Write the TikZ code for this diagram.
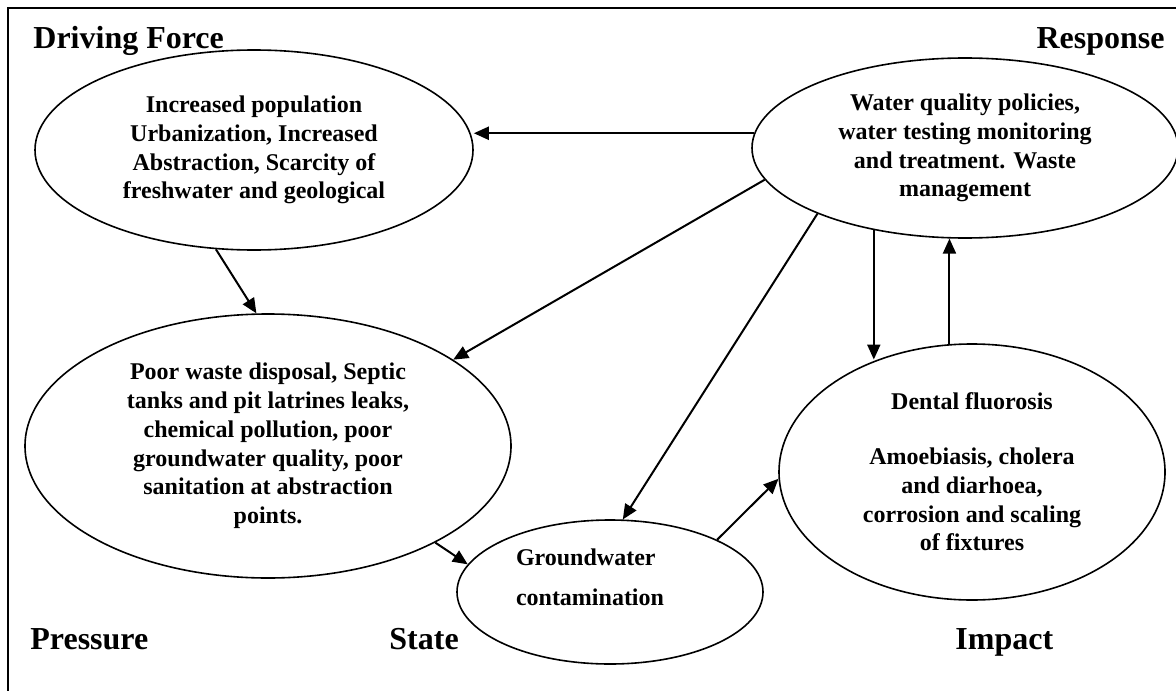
\documentclass[tikz,border=0pt]{standalone}
\usepackage{fontspec}
\setmainfont{Liberation Serif}
\usetikzlibrary{shapes.geometric,arrows.meta,positioning}

\begin{document}
\begin{tikzpicture}[
    x=0.5pt, y=-0.5pt,
    % DPSIR stages
    stage/.style={ellipse, draw=black, line width=0.8pt, inner sep=0pt, align=center, font=\fontsize{12}{14.4}\selectfont\bfseries},
    % Corner titles
    heading/.style={inner sep=0pt, font=\fontsize{16}{19}\selectfont\bfseries},
    % Links
    link/.style={-{Triangle[length=7.5pt,width=6.5pt]}, line width=1pt}
]
\useasboundingbox (0,0) rectangle (1176,690);
\clip (0,0) rectangle (1176,690);

% Frame
\draw[line width=1pt] (8,8) rectangle (1200,720);

% Titles
\node[heading, anchor=base west] (drivinglbl) at (33,49) {Driving Force};
\node[heading, anchor=base east] (responselbl) at (1165,49) {Response};
\node[heading, anchor=base west] (pressurelbl) at (30,649) {Pressure};
\node[heading, anchor=base west] (statelbl) at (389,649) {State};
\node[heading, anchor=base west] (impactlbl) at (955,649) {Impact};

% Stages
\node[stage, minimum width=219pt, minimum height=100pt] (driver) at (254,150) {Increased population\\Urbanization, Increased\\Abstraction, Scarcity of\\freshwater and geological};
\node[stage, minimum width=213pt, minimum height=90pt] (resp) at (965,148) {Water quality policies,\\water testing monitoring\\and treatment. Waste\\management};
\node[stage, minimum width=243pt, minimum height=132pt] (press) at (268,446) {Poor waste disposal, Septic\\tanks and pit latrines leaks,\\chemical pollution, poor\\groundwater quality, poor\\sanitation at abstraction\\points.};
\node[stage, align=left, minimum width=153pt, minimum height=72pt] (gw) at (610,592) {Groundwater\\[5.6pt]contamination\hspace*{20pt}\null\\[0pt]\mbox{}};
\node[stage, minimum width=193pt, minimum height=128pt] (impact) at (972,472) {Dental fluorosis\\[13pt]Amoebiasis, cholera\\and diarhoea,\\corrosion and scaling\\of fixtures};

% Links
\draw[link] (resp.176) -- (resp.176 -| driver.east);
\draw[link] (driver.249) -- (press.95);
\draw[link] (resp.189) -- (press.25);
\draw[link] (resp.204) -- (gw.80);
\draw[link] (resp.222) -- (resp.222 |- impact.130);
\draw[link] (impact.100) -- (impact.100 |- resp.261);
\draw[link] (press.330) -- (gw.169);
\draw[link] (gw.26) -- (impact.182);
\end{tikzpicture}
\end{document}
